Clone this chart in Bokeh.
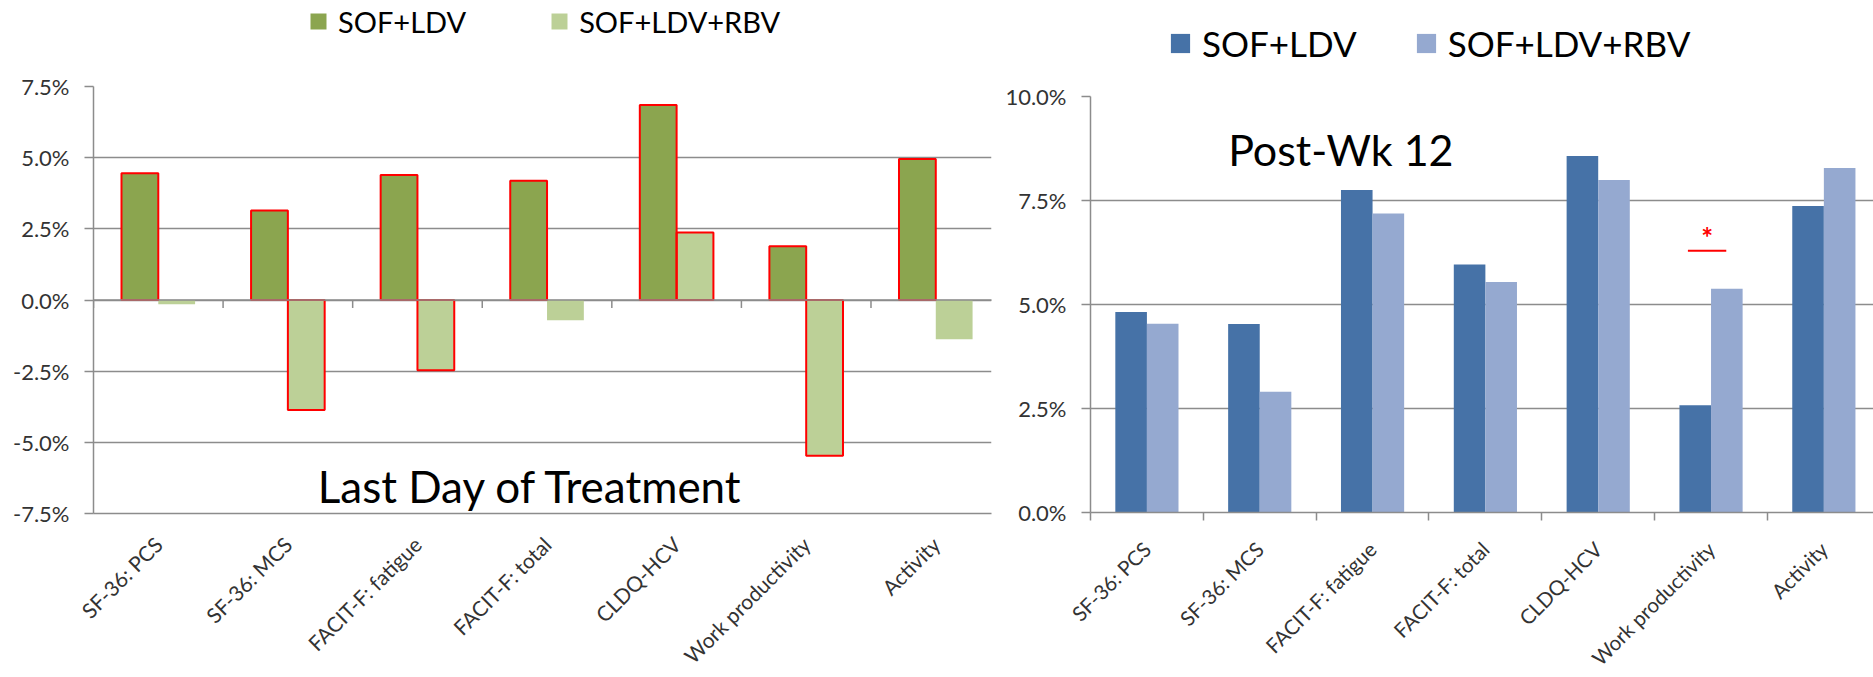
import math
from bokeh.plotting import figure
from bokeh.models import (ColumnDataSource, Range1d, FixedTicker, PrintfTickFormatter,
                          LinearAxis, Legend, LegendItem, Label)
from bokeh.layouts import row, column
from bokeh.embed import file_html
from bokeh.resources import INLINE
from bokeh.core.properties import value

# ---------------- data ----------------
categories = ["SF-36: PCS", "SF-36: MCS", "FACIT-F: fatigue", "FACIT-F: total",
              "CLDQ-HCV", "Work productivity", "Activity"]
series_names = ["SOF+LDV", "SOF+LDV+RBV"]

last_day_sof_ldv = [4.45, 3.14, 4.39, 4.19, 6.85, 1.89, 4.95]
last_day_sof_ldv_rbv = [-0.15, -3.86, -2.47, -0.71, 2.37, -5.47, -1.38]
last_day_rbv_outlined = [False, True, True, False, True, True, False]

post_wk12_sof_ldv = [4.82, 4.53, 7.75, 5.96, 8.57, 2.58, 7.37]
post_wk12_sof_ldv_rbv = [4.54, 2.90, 7.19, 5.54, 7.99, 5.38, 8.28]

left_yticks = [-7.5, -5.0, -2.5, 0.0, 2.5, 5.0, 7.5]
right_yticks = [0.0, 2.5, 5.0, 7.5, 10.0]

left_title = "Last Day of Treatment"
right_title = "Post-Wk 12"
sig_category = "Work productivity"
sig_bar_level = 6.29
sig_star_level = 6.62

# ---------------- style ----------------
FONT = "Lato"
GRID = "#8c8c8c"
TXT = "#333333"
GREEN_DARK = "#8ba54f"
GREEN_LIGHT = "#bcd097"
BLUE_DARK = "#4672a7"
BLUE_LIGHT = "#95a9d0"
RED = "#ff0000"

n = len(categories)
centers = [i + 0.5 for i in range(n)]
bounds = [float(i) for i in range(n + 1)]
overrides = {}
for c, lab in zip(centers, categories):
    overrides[c] = lab
    overrides[str(c)] = lab


def make_fig(fw, fh, mleft, mright, mtop, mbottom, x_end, y0, y1, yticks):
    p = figure(frame_width=fw, frame_height=fh, output_backend="svg", toolbar_location=None,
               x_range=Range1d(0, x_end), y_range=Range1d(y0, y1),
               x_axis_type=None,
               min_border_left=mleft, min_border_right=mright,
               min_border_top=mtop, min_border_bottom=mbottom,
               background_fill_color="white", border_fill_color="white")
    p.title.visible = False
    p.outline_line_color = None
    p.xgrid.visible = False
    p.ygrid.ticker = FixedTicker(ticks=yticks, minor_ticks=[])
    p.ygrid.grid_line_color = GRID
    p.ygrid.grid_line_width = 1.5
    ya = p.yaxis[0]
    ya.ticker = FixedTicker(ticks=yticks, minor_ticks=[])
    ya.formatter = PrintfTickFormatter(format="%.1f%%")
    ya.major_tick_out = 9
    ya.major_tick_in = 0
    ya.minor_tick_out = 0
    ya.minor_tick_in = 0
    ya.major_tick_line_color = GRID
    ya.major_tick_line_width = 1.5
    ya.axis_line_color = GRID
    ya.axis_line_width = 1.5
    ya.major_label_text_font = FONT
    ya.major_label_text_font_size = "22px"
    ya.major_label_text_color = TXT
    ya.major_label_standoff = 15
    return p


def label_axis(minor_out, standoff, size):
    return LinearAxis(ticker=FixedTicker(ticks=centers, minor_ticks=bounds),
                      major_label_overrides=overrides,
                      major_label_orientation=math.pi / 4,
                      major_tick_out=0, major_tick_in=0,
                      minor_tick_out=minor_out, minor_tick_in=0,
                      minor_tick_line_color=GRID, minor_tick_line_width=1.5,
                      axis_line_color=GRID, axis_line_width=1.5,
                      major_label_text_font=FONT, major_label_text_font_size=size,
                      major_label_text_color=TXT, major_label_standoff=standoff)


def legend_fig(width, height, colors, vx, vy, glyph, standoff, spacing, size, row_h):
    f = figure(frame_width=width, frame_height=height, output_backend="svg",
               toolbar_location=None, x_range=Range1d(0, 1), y_range=Range1d(0, 1),
               x_axis_type=None, y_axis_type=None,
               min_border_left=0, min_border_right=0, min_border_top=0, min_border_bottom=0,
               background_fill_color="white", border_fill_color="white")
    f.title.visible = False
    f.outline_line_color = None
    f.grid.visible = False
    # zero-height swatch renderers that only feed the legend
    rs = [f.vbar(x=[0.5], top=[0.0], bottom=[0.0], width=0.01, fill_color=c, line_color=None)
          for c in colors]
    leg = Legend(items=[LegendItem(label=s, renderers=[r]) for s, r in zip(series_names, rs)],
                 orientation="horizontal", location=(vx, vy),
                 glyph_width=glyph, glyph_height=glyph, label_standoff=standoff,
                 spacing=spacing, padding=0, margin=0, border_line_color=None,
                 background_fill_alpha=0, label_height=row_h,
                 label_text_font=FONT, label_text_font_size=size,
                 label_text_color="black")
    f.add_layout(leg)
    return f


# ---------------- left chart ----------------
lw = 0.284
left = make_fig(898, 427, 93, 9, 20, 164, 6.93, -7.5, 7.5, left_yticks)
lsrc = ColumnDataSource(dict(
    x_a=[c - lw / 2 for c in centers], x_b=[c + lw / 2 for c in centers],
    a=last_day_sof_ldv, b=last_day_sof_ldv_rbv,
    b_line=[1.0 if f else 0.0 for f in last_day_rbv_outlined]))
left.vbar(x="x_a", top="a", bottom=0, width=lw, source=lsrc,
          fill_color=GREEN_DARK, line_color=None)
left.vbar(x="x_b", top="b", bottom=0, width=lw, source=lsrc,
          fill_color=GREEN_LIGHT, line_color=None)
left.vbar(x="x_a", top="a", bottom=0, width=lw, source=lsrc,
          fill_color=None, line_color=RED, line_width=2)
left.vbar(x="x_b", top="b", bottom=0, width=lw, source=lsrc,
          fill_color=None, line_color=RED, line_alpha="b_line", line_width=2)

# tick marks on the zero line at the category boundaries
zero_tick_len = 0.28
left.segment(x0=bounds, x1=bounds, y0=[0.0] * len(bounds), y1=[-zero_tick_len] * len(bounds),
             line_color=GRID, line_width=1.5)
left.segment(x0=[bounds[0]], x1=[bounds[-1]], y0=[0.0], y1=[0.0], line_color=GRID, line_width=1.5)

left.add_layout(label_axis(0, 27, "21px"), "below")

left.add_layout(Label(x=1.73, y=-6.55, text=left_title, text_font=FONT,
                      text_font_size="44px", text_color="black",
                      text_align="left", text_baseline="alphabetic"))

left_leg = legend_fig(1000, 66, [GREEN_DARK, GREEN_LIGHT], 308, 22, 20, 10, 83, "29px", 46)

# ---------------- right chart ----------------
rw = 0.28
right = make_fig(783, 416, 90, 0, 20, 165, 6.94, 0.0, 10.0, right_yticks)
rsrc = ColumnDataSource(dict(
    x_a=[c - rw / 2 for c in centers], x_b=[c + rw / 2 for c in centers],
    a=post_wk12_sof_ldv, b=post_wk12_sof_ldv_rbv))
right.vbar(x="x_a", top="a", bottom=0, width=rw, source=rsrc,
           fill_color=BLUE_DARK, line_color=None)
right.vbar(x="x_b", top="b", bottom=0, width=rw, source=rsrc,
           fill_color=BLUE_LIGHT, line_color=None)
right.add_layout(label_axis(8, 25, "20.5px"), "below")

k = categories.index(sig_category)
sig_center = centers[k] - 0.035
right.segment(x0=[sig_center - 0.17], x1=[sig_center + 0.17],
              y0=[sig_bar_level], y1=[sig_bar_level], line_color=RED, line_width=2)
right.text(x=[sig_center], y=[sig_star_level], text=["*"], text_color=RED,
           text_font=value(FONT), text_font_size="28px", text_font_style="bold",
           text_align="center", text_baseline="alphabetic")

right.add_layout(Label(x=1.22, y=8.73, text=right_title, text_font=FONT,
                       text_font_size="43px", text_color="black",
                       text_align="left", text_baseline="alphabetic"))

right_leg = legend_fig(873, 76, [BLUE_DARK, BLUE_LIGHT], 168, 7, 24, 10, 57, "35px", 52)

layout = row(column(left_leg, left), column(right_leg, right))
open("out.html", "w").write(file_html(layout, INLINE))
